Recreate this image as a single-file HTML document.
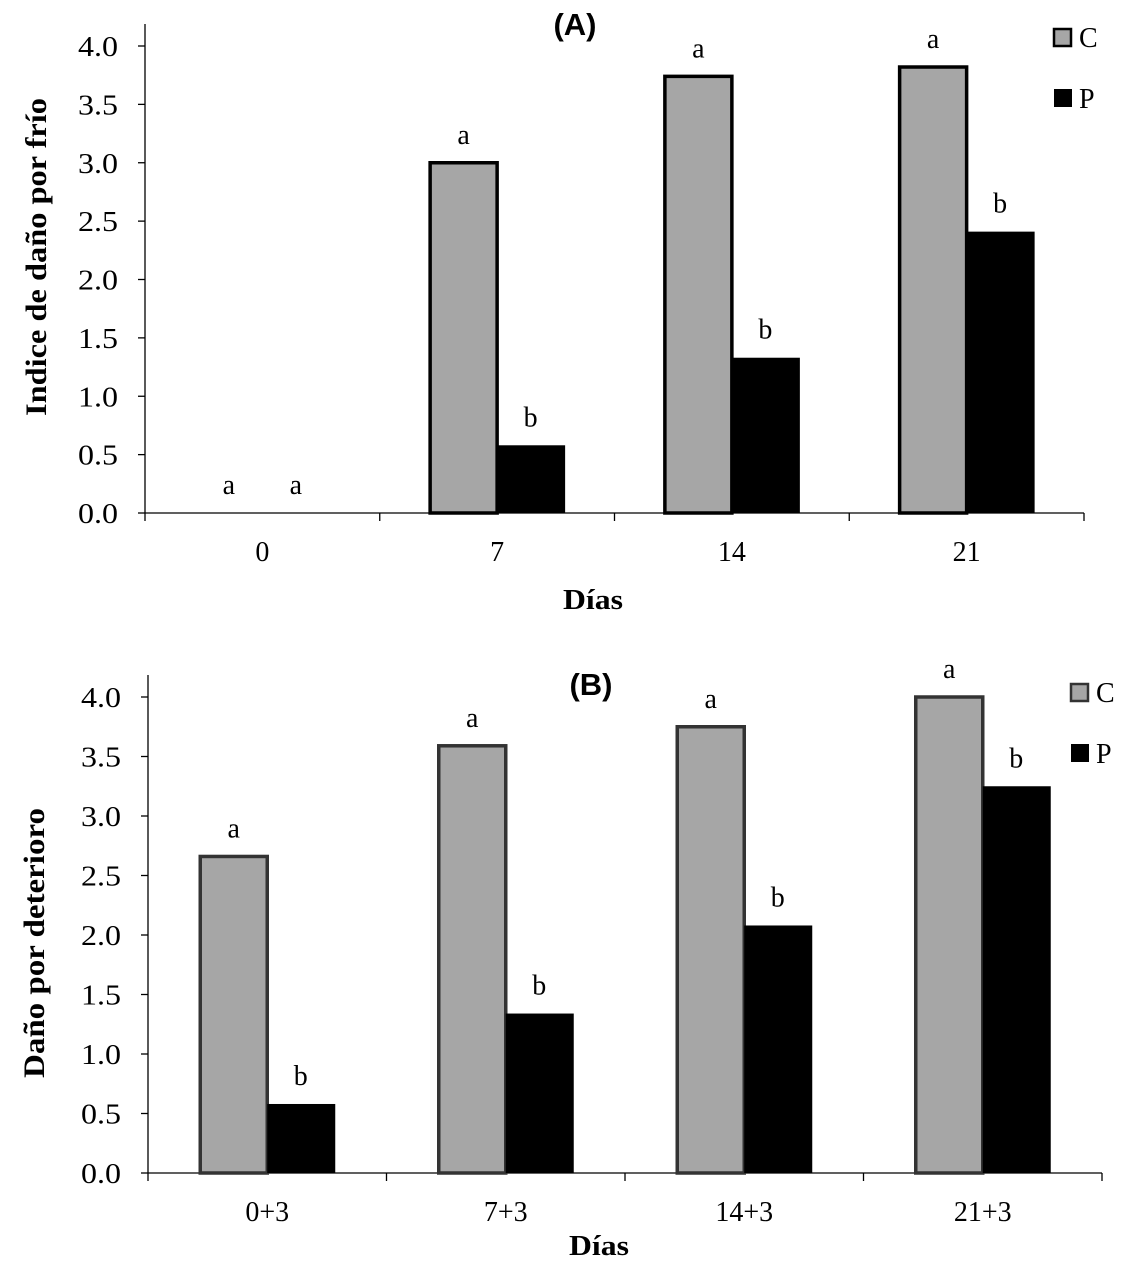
<!DOCTYPE html>
<html><head><meta charset="utf-8"><style>
body{margin:0;background:#fff}
svg{display:block}
text{font-family:"Liberation Serif",serif;fill:#000}
.t{font-family:"Liberation Sans",sans-serif;font-weight:bold}
</style></head><body>
<svg id="s" width="1143" height="1279" xmlns="http://www.w3.org/2000/svg"></svg>
<script>
const catsA=["0","7","14","21"];
const cA=[0,3.0,3.74,3.82];
const pA=[0,0.58,1.33,2.41];
const lcA=["a","a","a","a"];
const lpA=["a","b","b","b"];
const catsB=["0+3","7+3","14+3","21+3"];
const cB=[2.66,3.59,3.75,4.0];
const pB=[0.58,1.34,2.08,3.25];
const lcB=["a","a","a","a"];
const lpB=["b","b","b","b"];
const ticks=[0,0.5,1,1.5,2,2.5,3,3.5,4];
const tickLabels=["0.0","0.5","1.0","1.5","2.0","2.5","3.0","3.5","4.0"];
const svg=document.getElementById('s');
const NS='http://www.w3.org/2000/svg';
function mk(tag,attrs,txt){const e=document.createElementNS(NS,tag);for(const k in attrs)e.setAttribute(k,attrs[k]);if(txt!==undefined)e.textContent=txt;svg.appendChild(e);return e;}
function panel(o){
  const y=v=>o.y0-v*(o.y0-o.y4)/4;
  const cw=(o.x1-o.x0)/o.cats.length;
  const x=i=>o.x0+cw*(i+0.5);
  let e;
  e=mk('line',{x1:o.x0,y1:o.y4-22,x2:o.x0,y2:o.y0,stroke:'#000','stroke-width':1.3});
  
  e=mk('line',{x1:o.x0,y1:o.y0,x2:o.x1,y2:o.y0,stroke:'#000','stroke-width':1.3});
  
  ticks.forEach((t,i)=>{
    mk('line',{x1:o.x0-7,y1:y(t),x2:o.x0,y2:y(t),stroke:'#000','stroke-width':1.3});
    e=mk('text',{x:o.x0-27,y:y(t)+10,'font-size':28,'text-anchor':'end',textLength:40,lengthAdjust:'spacingAndGlyphs'},tickLabels[i]);
    
  });
  for(let i=0;i<=o.cats.length;i++)mk('line',{x1:o.x0+cw*i,y1:o.y0,x2:o.x0+cw*i,y2:o.y0+8,stroke:'#000','stroke-width':1.3});
  o.cats.forEach((c,i)=>{
    e=mk('text',{x:x(i),y:o.y0+48,'font-size':28,'text-anchor':'middle'},c);
    
    const bw=67;
    if(o.c[i]>0){
      e=mk('rect',{x:x(i)-bw,y:y(o.c[i]),width:bw,height:o.y0-y(o.c[i]),fill:'#a6a6a6',stroke:o.stroke,'stroke-width':3.5});
      
    }
    if(o.p[i]>0){
      e=mk('rect',{x:x(i),y:y(o.p[i]),width:bw+1,height:o.y0-y(o.p[i]),fill:'#000'});
      
    }
    e=mk('text',{x:x(i)-bw/2,y:y(o.c[i])-19,'font-size':28,'text-anchor':'middle'},o.lc[i]);
    
    e=mk('text',{x:x(i)+bw/2,y:y(o.p[i])-19,'font-size':28,'text-anchor':'middle'},o.lp[i]);
    
  });
  e=mk('text',{class:'t',x:o.tx,y:o.ty,'font-size':31,'text-anchor':'middle'},o.title);
  
  e=mk('text',{x:o.xtx,y:o.xty,'font-size':29,'font-weight':'bold','text-anchor':'middle',textLength:60,lengthAdjust:'spacingAndGlyphs'},'Días');
  
  e=mk('text',{x:0,y:0,'font-size':30,'font-weight':'bold','text-anchor':'middle',textLength:o.ylen,lengthAdjust:'spacingAndGlyphs',transform:`translate(${o.ytx},${o.ytc}) rotate(-90)`},o.ytitle);
  
  e=mk('rect',{x:o.lx,y:o.ly,width:17,height:17,fill:'#a6a6a6',stroke:o.stroke,'stroke-width':2.5});
  
  e=mk('text',{x:o.lx+25,y:o.ly+18,'font-size':28},'C');
  
  e=mk('rect',{x:o.lx,y:o.ly+60,width:18,height:18,fill:'#000'});
  
  e=mk('text',{x:o.lx+25,y:o.ly+79,'font-size':28},'P');
  
}
panel({id:'panel-a',x0:145,x1:1084,y0:513,y4:46,cats:catsA,c:cA,p:pA,lc:lcA,lp:lpA,stroke:'#000',title:'(A)',tx:575,ty:35,xtx:593,xty:609,ytitle:'Indice de daño por frío',ytx:46,ytc:257,ylen:318,lx:1054,ly:29});
panel({id:'panel-b',x0:148,x1:1102,y0:1173,y4:697,cats:catsB,c:cB,p:pB,lc:lcB,lp:lpB,stroke:'#333',title:'(B)',tx:591,ty:695,xtx:599,xty:1255,ytitle:'Daño por deterioro',ytx:44,ytc:943,ylen:270,lx:1071,ly:684});
</script>
</body></html>
